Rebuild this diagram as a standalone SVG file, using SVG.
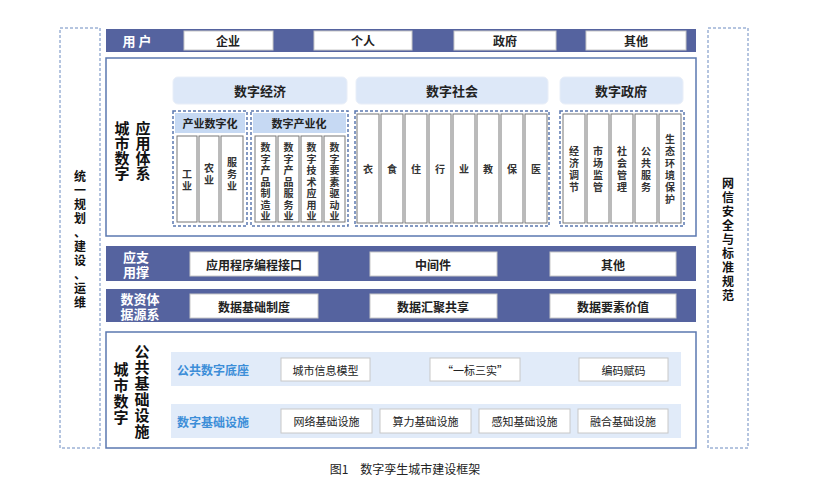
<svg xmlns="http://www.w3.org/2000/svg" width="835" height="491" viewBox="0 0 835 491">
<style>
text{font-family:"Noto Sans CJK SC","Liberation Sans",sans-serif;font-weight:bold;text-anchor:middle;dominant-baseline:central}
.band{fill:#55639f}
.wb{fill:#fff;stroke:#c8c8c8;stroke-width:1}
.t{font-size:12px;fill:#222}
.wt{fill:#fff;font-size:13px}
.panel{fill:#fff;stroke:#5b78b0;stroke-width:1.5}
.hdr{fill:#dde8f8;stroke:#e8eef8}
.dash{fill:none;stroke:#5b78b0;stroke-width:1.5;stroke-dasharray:3,2}
.col{fill:#fff;stroke:#777;stroke-width:1}
.ct{font-size:10px;fill:#333}
.side{fill:none;stroke:#6a8ac0;stroke-width:1;stroke-dasharray:3,2}
.big{font-size:15px;fill:#111}
.lb{fill:#e1ebf9}
.blue{fill:#3c8ed8;font-size:12px}
.n{font-weight:normal;font-size:11px}
</style>
<g id="left"><rect class="side" x="60" y="28" width="40" height="420"/><text class="big" style="font-size:12px"><tspan x="80" y="175">统</tspan><tspan x="80" dy="14">一</tspan><tspan x="80" dy="14">规</tspan><tspan x="80" dy="14">划</tspan><tspan x="80" dy="14">、</tspan><tspan x="80" dy="14">建</tspan><tspan x="80" dy="14">设</tspan><tspan x="80" dy="14">、</tspan><tspan x="80" dy="14">运</tspan><tspan x="80" dy="14">维</tspan></text></g>
<g id="right"><rect class="side" x="708" y="28" width="40" height="420"/><text class="big" style="font-size:12px"><tspan x="728" y="182">网</tspan><tspan x="728" dy="14">信</tspan><tspan x="728" dy="14">安</tspan><tspan x="728" dy="14">全</tspan><tspan x="728" dy="14">与</tspan><tspan x="728" dy="14">标</tspan><tspan x="728" dy="14">准</tspan><tspan x="728" dy="14">规</tspan><tspan x="728" dy="14">范</tspan></text></g>
<g id="users">
<rect class="band" x="106" y="29" width="590" height="23"/>
<text class="wt" x="137" y="40.5">用 户</text>
<rect class="wb" x="184" y="31" width="89" height="19"/><text class="t" x="228" y="40.5">企业</text>
<rect class="wb" x="314" y="31" width="98" height="19"/><text class="t" x="363" y="40.5">个人</text>
<rect class="wb" x="454" y="31" width="102" height="19"/><text class="t" x="505" y="40.5">政府</text>
<rect class="wb" x="586" y="31" width="100" height="19"/><text class="t" x="636" y="40.5">其他</text>
</g>
<g id="app">
<rect class="panel" x="106" y="58" width="590" height="178"/>
<text class="big"><tspan x="122" y="127">城</tspan><tspan x="122" dy="15">市</tspan><tspan x="122" dy="15">数</tspan><tspan x="122" dy="15">字</tspan></text>
<text class="big"><tspan x="143" y="127">应</tspan><tspan x="143" dy="15">用</tspan><tspan x="143" dy="15">体</tspan><tspan x="143" dy="15">系</tspan></text>
<rect class="hdr" x="173" y="77" width="174" height="27" rx="5"/><text class="t" x="260" y="90.5" style="font-size:13px">数字经济</text>
<rect class="hdr" x="356" y="77" width="192" height="27" rx="5"/><text class="t" x="452" y="90.5" style="font-size:13px">数字社会</text>
<rect class="hdr" x="560" y="77" width="123" height="27" rx="5"/><text class="t" x="621" y="90.5" style="font-size:13px">数字政府</text>
<rect class="dash" x="173" y="111" width="74" height="115"/>
<rect x="175" y="113" width="70" height="20" fill="#c6d9f3"/><text class="t" x="210" y="123" style="font-size:11px">产业数字化</text>
<rect class="col" x="177" y="136" width="20" height="86"/><text class="ct"><tspan x="187" y="173">工</tspan><tspan x="187" dy="12">业</tspan></text>
<rect class="col" x="199" y="136" width="20" height="86"/><text class="ct"><tspan x="209" y="167">农</tspan><tspan x="209" dy="12">业</tspan></text>
<rect class="col" x="221" y="136" width="22" height="86"/><text class="ct"><tspan x="232" y="161">服</tspan><tspan x="232" dy="12">务</tspan><tspan x="232" dy="12">业</tspan></text>
<rect class="dash" x="251" y="111" width="97" height="115"/>
<rect x="253" y="113" width="93" height="20" fill="#c6d9f3"/><text class="t" x="299" y="123" style="font-size:11px">数字产业化</text>
<rect class="col" x="255" y="136" width="21" height="86"/><text class="ct"><tspan x="265.5" y="146">数</tspan><tspan x="265.5" dy="11.5">字</tspan><tspan x="265.5" dy="11.5">产</tspan><tspan x="265.5" dy="11.5">品</tspan><tspan x="265.5" dy="11.5">制</tspan><tspan x="265.5" dy="11.5">造</tspan><tspan x="265.5" dy="11.5">业</tspan></text>
<rect class="col" x="278" y="136" width="21" height="86"/><text class="ct"><tspan x="288.5" y="146">数</tspan><tspan x="288.5" dy="11.5">字</tspan><tspan x="288.5" dy="11.5">产</tspan><tspan x="288.5" dy="11.5">品</tspan><tspan x="288.5" dy="11.5">服</tspan><tspan x="288.5" dy="11.5">务</tspan><tspan x="288.5" dy="11.5">业</tspan></text>
<rect class="col" x="301" y="136" width="21" height="86"/><text class="ct"><tspan x="311.5" y="146">数</tspan><tspan x="311.5" dy="11.5">字</tspan><tspan x="311.5" dy="11.5">技</tspan><tspan x="311.5" dy="11.5">术</tspan><tspan x="311.5" dy="11.5">应</tspan><tspan x="311.5" dy="11.5">用</tspan><tspan x="311.5" dy="11.5">业</tspan></text>
<rect class="col" x="324" y="136" width="21" height="86"/><text class="ct"><tspan x="334.5" y="146">数</tspan><tspan x="334.5" dy="11.5">字</tspan><tspan x="334.5" dy="11.5">要</tspan><tspan x="334.5" dy="11.5">素</tspan><tspan x="334.5" dy="11.5">驱</tspan><tspan x="334.5" dy="11.5">动</tspan><tspan x="334.5" dy="11.5">业</tspan></text>
<rect class="dash" x="355" y="111" width="194" height="115"/>
<rect class="col" x="357" y="114" width="22" height="109"/><text class="ct" x="368" y="168">衣</text>
<rect class="col" x="381" y="114" width="22" height="109"/><text class="ct" x="392" y="168">食</text>
<rect class="col" x="405" y="114" width="22" height="109"/><text class="ct" x="416" y="168">住</text>
<rect class="col" x="429" y="114" width="22" height="109"/><text class="ct" x="440" y="168">行</text>
<rect class="col" x="453" y="114" width="22" height="109"/><text class="ct" x="464" y="168">业</text>
<rect class="col" x="477" y="114" width="22" height="109"/><text class="ct" x="488" y="168">教</text>
<rect class="col" x="501" y="114" width="22" height="109"/><text class="ct" x="512" y="168">保</text>
<rect class="col" x="525" y="114" width="22" height="109"/><text class="ct" x="536" y="168">医</text>
<rect class="dash" x="560" y="111" width="124" height="115"/>
<rect class="col" x="563" y="114" width="22" height="109"/><text class="ct"><tspan x="574" y="150">经</tspan><tspan x="574" dy="12">济</tspan><tspan x="574" dy="12">调</tspan><tspan x="574" dy="12">节</tspan></text>
<rect class="col" x="587" y="114" width="22" height="109"/><text class="ct"><tspan x="598" y="150">市</tspan><tspan x="598" dy="12">场</tspan><tspan x="598" dy="12">监</tspan><tspan x="598" dy="12">管</tspan></text>
<rect class="col" x="611" y="114" width="22" height="109"/><text class="ct"><tspan x="622" y="150">社</tspan><tspan x="622" dy="12">会</tspan><tspan x="622" dy="12">管</tspan><tspan x="622" dy="12">理</tspan></text>
<rect class="col" x="635" y="114" width="22" height="109"/><text class="ct"><tspan x="646" y="150">公</tspan><tspan x="646" dy="12">共</tspan><tspan x="646" dy="12">服</tspan><tspan x="646" dy="12">务</tspan></text>
<rect class="col" x="659" y="114" width="22" height="109"/><text class="ct"><tspan x="670" y="138">生</tspan><tspan x="670" dy="12">态</tspan><tspan x="670" dy="12">环</tspan><tspan x="670" dy="12">境</tspan><tspan x="670" dy="12">保</tspan><tspan x="670" dy="12">护</tspan></text>
</g>
<g id="support">
<rect class="band" x="106" y="246" width="590" height="35"/>
<text class="wt"><tspan x="136" y="256">应支</tspan><tspan x="136" y="271">用撑</tspan></text>
<rect class="wb" x="190" y="252" width="128" height="24"/><text class="t" x="254" y="264">应用程序编程接口</text>
<rect class="wb" x="370" y="252" width="127" height="24"/><text class="t" x="433" y="264">中间件</text>
<rect class="wb" x="550" y="252" width="126" height="24"/><text class="t" x="613" y="264">其他</text>
</g>
<g id="data">
<rect class="band" x="106" y="289" width="590" height="33"/>
<text class="wt"><tspan x="140" y="298">数资体</tspan><tspan x="140" y="313">据源系</tspan></text>
<rect class="wb" x="190" y="294" width="128" height="24"/><text class="t" x="254" y="306">数据基础制度</text>
<rect class="wb" x="370" y="294" width="127" height="24"/><text class="t" x="433" y="306">数据汇聚共享</text>
<rect class="wb" x="550" y="294" width="126" height="24"/><text class="t" x="613" y="306">数据要素价值</text>
</g>
<g id="infra">
<rect class="panel" x="106" y="332" width="590" height="116"/>
<text class="big"><tspan x="121" y="368">城</tspan><tspan x="121" dy="16">市</tspan><tspan x="121" dy="16">数</tspan><tspan x="121" dy="16">字</tspan></text>
<text class="big"><tspan x="142" y="350">公</tspan><tspan x="142" dy="16">共</tspan><tspan x="142" dy="16">基</tspan><tspan x="142" dy="16">础</tspan><tspan x="142" dy="16">设</tspan><tspan x="142" dy="16">施</tspan></text>
<rect class="lb" x="171" y="352" width="510" height="34"/>
<text class="blue" x="213" y="369">公共数字底座</text>
<rect class="wb" x="281" y="358" width="89" height="23"/><text class="t n" x="325.5" y="369.5">城市信息模型</text>
<rect class="wb" x="430" y="358" width="90" height="23"/><text class="t n" x="475" y="369.5">“一标三实”</text>
<rect class="wb" x="579" y="358" width="89" height="23"/><text class="t n" x="623.5" y="369.5">编码赋码</text>
<rect class="lb" x="171" y="404" width="510" height="34"/>
<text class="blue" x="213" y="421">数字基础设施</text>
<rect class="wb" x="281" y="409" width="91" height="24"/><text class="t n" x="326.5" y="421">网络基础设施</text>
<rect class="wb" x="380" y="409" width="91" height="24"/><text class="t n" x="425.5" y="421">算力基础设施</text>
<rect class="wb" x="479" y="409" width="91" height="24"/><text class="t n" x="524.5" y="421">感知基础设施</text>
<rect class="wb" x="578" y="409" width="90" height="24"/><text class="t n" x="623" y="421">融合基础设施</text>
</g>
<text x="405" y="468" style="font-weight:normal;font-size:12px;fill:#222">图1　数字孪生城市建设框架</text>
</svg>
